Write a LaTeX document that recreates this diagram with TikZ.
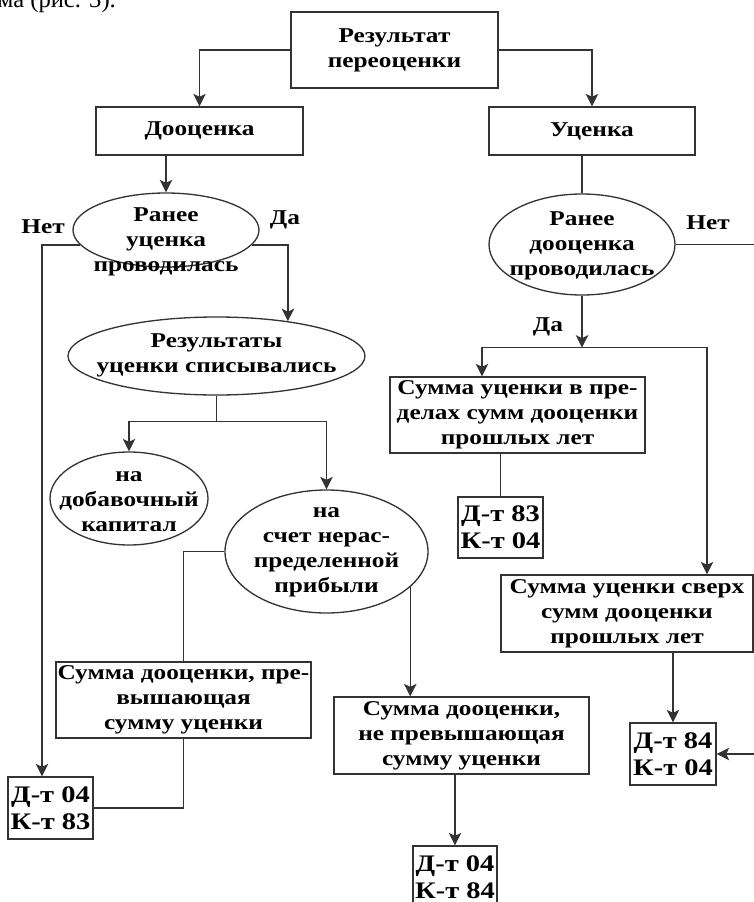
\documentclass[tikz,border=0pt]{standalone}
\usepackage{fontspec}
\setmainfont{Liberation Serif}
\newfontfamily\boxfont{Liberation Serif}[FakeStretch=1.2]
\usetikzlibrary{arrows.meta,shapes.geometric}

\begin{document}
\begin{tikzpicture}[
  line/.style={draw=black!80, line width=0.75pt},
  arrow/.style={line, -{Stealth[length=2.5mm, width=2.5mm, inset=0.6mm]}},
  box/.style={shape=rectangle, line, inner sep=0pt, align=center,
    font=\boxfont\bfseries\fontsize{12}{14.2}\selectfont},
  entry/.style={box, font=\boxfont\bfseries\fontsize{13.5}{15.4}\selectfont},
  decide/.style={shape=ellipse, line, inner sep=0pt},
  txt/.style={shape=rectangle, draw=none, inner sep=0pt, align=center,
    font=\boxfont\bfseries\fontsize{12}{14.2}\selectfont},
  answer/.style={txt}]
%%%%%%%%%%%%%%%%%%%%%%%%%%%%%%%%%%%%%%%%%%% HELP LINES
%\draw[help lines] (0,-18) grid (15,0);
\useasboundingbox[fill=white] (0,0) rectangle (15.08,-18.04);

%%%%%%%%%%%%%%%%%%%%%%%%%%%%%%%%%%%%%%%%%%% elements
\node[shape=rectangle, draw=none, inner sep=0pt, anchor=base west, font=\fontsize{14}{16}\selectfont](fig) at (-0.05,-0.14){ма (рис. 3).};

\node[box, minimum width=4.14cm, minimum height=1.52cm](res) at (7.89,-1.00){Результат\\переоценки};
\node[box, minimum width=4.14cm, minimum height=0.96cm](up) at (3.99,-2.62){Дооценка};
\node[box, minimum width=4.12cm, minimum height=0.96cm](down) at (11.84,-2.62){Уценка};

%%%%% left branch
\node[decide, minimum width=3.72cm, minimum height=1.48cm](wasdown) at (3.32,-4.60){};
\node[txt](wasdown-t) at (3.32,-4.84){Ранее\\уценка\\проводилась};
\node[decide, minimum width=5.94cm, minimum height=1.56cm](written) at (4.33,-7.12){};
\node[txt](written-t) at (4.33,-7.10){Результаты\\уценки списывались};
\node[decide, minimum width=3.16cm, minimum height=1.86cm](addcap) at (2.58,-9.97){};
\node[txt](addcap-t) at (2.58,-10.04){на\\добавочный\\капитал};
\node[decide, minimum width=4.06cm, minimum height=2.46cm](retained) at (6.53,-11.03){};
\node[txt](retained-t) at (6.53,-11.04){на\\счет нерас-\\пределенной\\прибыли};
\node[box, minimum width=5.10cm, minimum height=1.52cm](excess) at (3.67,-14.00){Сумма дооценки, пре-\\вышающая\\сумму уценки};
\node[box, minimum width=5.10cm, minimum height=1.54cm](within) at (9.23,-14.71){Сумма дооценки,\\не превышающая\\сумму уценки};
\node[entry, minimum width=1.70cm, minimum height=1.24cm](dt0483) at (1.01,-16.16){Д-т 04\\К-т 83};
\node[entry, minimum width=1.68cm, minimum height=1.24cm](dt0484) at (9.10,-17.54){Д-т 04\\К-т 84};

%%%%% right branch
\node[decide, minimum width=3.72cm, minimum height=2.02cm](wasup) at (11.64,-4.89){};
\node[txt](wasup-t) at (11.64,-4.92){Ранее\\дооценка\\проводилась};
\node[box, minimum width=5.10cm, minimum height=1.52cm](inlimit) at (10.35,-8.30){Сумма уценки в пре-\\делах сумм дооценки\\прошлых лет};
\node[entry, minimum width=1.70cm, minimum height=1.22cm](dt8304) at (10.01,-10.55){Д-т 83\\К-т 04};
\node[box, minimum width=5.04cm, minimum height=1.54cm](over) at (12.54,-12.27){Сумма уценки сверх\\сумм дооценки\\прошлых лет};
\node[entry, minimum width=1.72cm, minimum height=1.24cm](dt8404) at (13.46,-15.08){Д-т 84\\К-т 04};

%%%%% answers
\node[answer](no1) at (0.86,-4.54){Нет};
\node[answer](yes1) at (5.70,-4.40){Да};
\node[answer](no2) at (14.16,-4.46){Нет};
\node[answer](yes2) at (10.96,-6.54){Да};

%%%%% edges
\draw[arrow] (res.west) -| (up.north);
\draw[arrow] (res.east) -| (down.north);
\draw[arrow] (up.south -| wasdown.north) -- (wasdown.north);
\draw[line] (down.south -| wasup.north) -- (wasup.north);

\draw[arrow] (wasdown.190) -| ([xshift=-1.7mm]dt0483.north);
\draw[arrow] (wasdown.350) -| (written.26);
\draw[line] (written.south) -- ++(0,-0.52) coordinate(split1);
\draw[arrow] (split1) -| (addcap.north);
\draw[arrow] (split1) -| (retained.north);
\draw[line] (retained.west) -| (excess.north);
\draw[line] (excess.south) |- (dt0483.east);
\draw[arrow] (retained.337) -- (retained.337 |- within.north);
\draw[arrow] (within.south -| dt0484.north) -- (dt0484.north);

\draw[arrow] (wasup.south) -- ++(0,-1.04) coordinate(split2);
\draw[arrow] (split2) -| ([xshift=-7.1mm]inlimit.north);
\draw[arrow] (split2) -| ([xshift=16mm]over.north);
\draw[line] (inlimit.south -| dt8304.north) -- (dt8304.north);
\draw[arrow] (over.south -| dt8404.north) -- (dt8404.north);
\draw[arrow] (wasup.east) -- ++(2,0) |- (dt8404.east);
\end{tikzpicture}
\end{document}
